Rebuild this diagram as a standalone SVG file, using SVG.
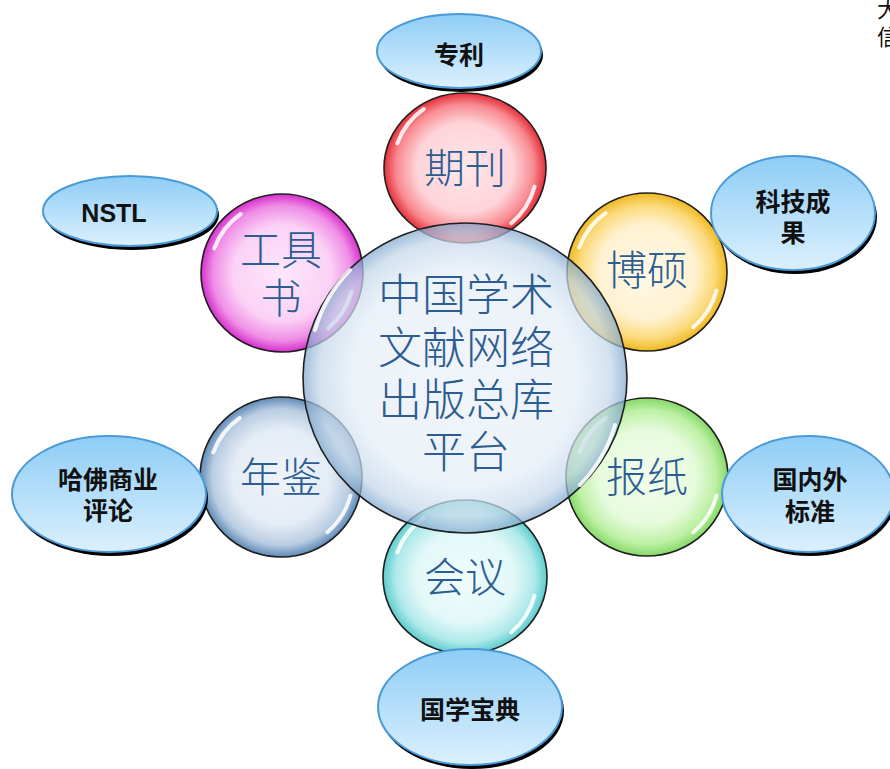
<svg xmlns="http://www.w3.org/2000/svg" xmlns:xlink="http://www.w3.org/1999/xlink" width="890" height="769" viewBox="0 0 890 769">
<style>
.bub{stroke:#1f1f1f;stroke-width:1.6}
.blab{font-family:"Noto Sans CJK SC","Noto Sans CJK JP",sans-serif;font-weight:300;font-size:41px;fill:#2c5d92;text-anchor:middle}
.clab{font-family:"Noto Sans CJK SC","Noto Sans CJK JP",sans-serif;font-weight:300;font-size:44px;fill:#2c5d92;text-anchor:middle}
.ell{fill:url(#ellG);stroke:#4a9ad8;stroke-width:2}
.shd{fill:#000}
.elab{font-family:"Noto Sans CJK SC","Noto Sans CJK JP",sans-serif;font-weight:bold;font-size:25px;fill:#111;text-anchor:middle}
.hl{fill:none;stroke:#fff;stroke-width:4;stroke-linecap:round;opacity:0.85}
</style>
<defs>
<linearGradient id="ellG" x1="0" y1="0" x2="0" y2="1">
<stop offset="0" stop-color="#8ecdf6"/>
<stop offset="1" stop-color="#dcf0fd"/>
</linearGradient>
<radialGradient id="gRed" cx="0.5" cy="0.5" r="0.5">
<stop offset="0" stop-color="#ffe6ea"/><stop offset="0.6" stop-color="#fdd4d9"/><stop offset="0.85" stop-color="#f88a90"/><stop offset="1" stop-color="#e52f3a"/>
</radialGradient>
<radialGradient id="gMag" cx="0.5" cy="0.5" r="0.5">
<stop offset="0" stop-color="#fde6fb"/><stop offset="0.6" stop-color="#fbd2f6"/><stop offset="0.85" stop-color="#f08ee6"/><stop offset="1" stop-color="#d530cc"/>
</radialGradient>
<radialGradient id="gYel" cx="0.5" cy="0.5" r="0.5">
<stop offset="0" stop-color="#fff9e8"/><stop offset="0.6" stop-color="#fff2d2"/><stop offset="0.85" stop-color="#fbd978"/><stop offset="1" stop-color="#f0b820"/>
</radialGradient>
<radialGradient id="gGrn" cx="0.5" cy="0.5" r="0.5">
<stop offset="0" stop-color="#f2fdec"/><stop offset="0.6" stop-color="#e6fbdc"/><stop offset="0.85" stop-color="#bdf0a4"/><stop offset="1" stop-color="#86d868"/>
</radialGradient>
<radialGradient id="gCyn" cx="0.5" cy="0.5" r="0.5">
<stop offset="0" stop-color="#f0fcfc"/><stop offset="0.6" stop-color="#e2f8f8"/><stop offset="0.85" stop-color="#aee9ea"/><stop offset="1" stop-color="#5ccccc"/>
</radialGradient>
<radialGradient id="gBlu" cx="0.5" cy="0.5" r="0.5">
<stop offset="0" stop-color="#eef3f9"/><stop offset="0.6" stop-color="#e4ecf5"/><stop offset="0.85" stop-color="#b9cde2"/><stop offset="1" stop-color="#5f8ab6"/>
</radialGradient>
<radialGradient id="gCen" cx="0.5" cy="0.5" r="0.5">
<stop offset="0" stop-color="#eaf1f8"/><stop offset="0.7" stop-color="#e4edf6"/><stop offset="0.9" stop-color="#c3d7ea"/><stop offset="1" stop-color="#7ea6cc"/>
</radialGradient>
<path id="hl" class="hl" d="M -67.7 -24.6 A 72 72 0 0 1 -41.3 -59 M 69.5 18.6 A 72 72 0 0 1 46.3 55.2"/>
</defs>

<g id="n-qikan">
<ellipse class="bub" cx="465" cy="168" rx="81" ry="75" fill="url(#gRed)"/>
<use xlink:href="#hl" transform="translate(465,168)"/>
<text class="blab" x="465" y="183">期刊</text>
</g>
<g id="n-gongjushu">
<ellipse class="bub" cx="282" cy="273" rx="81" ry="79" fill="url(#gMag)"/>
<use xlink:href="#hl" transform="translate(282,273)"/>
<text class="blab" x="281" y="265">工具</text>
<text class="blab" x="281" y="313">书</text>
</g>
<g id="n-boshuo">
<ellipse class="bub" cx="647" cy="272" rx="80" ry="79" fill="url(#gYel)"/>
<use xlink:href="#hl" transform="translate(647,272)"/>
<text class="blab" x="647" y="285">博硕</text>
</g>
<g id="n-nianjian">
<ellipse class="bub" cx="281" cy="477" rx="81" ry="80" fill="url(#gBlu)"/>
<use xlink:href="#hl" transform="translate(281,477)"/>
<text class="blab" x="281" y="492">年鉴</text>
</g>
<g id="n-baozhi">
<ellipse class="bub" cx="647" cy="477" rx="81" ry="79" fill="url(#gGrn)"/>
<use xlink:href="#hl" transform="translate(647,477)"/>
<text class="blab" x="647" y="492">报纸</text>
</g>
<g id="n-huiyi">
<ellipse class="bub" cx="465" cy="577" rx="82" ry="77" fill="url(#gCyn)"/>
<use xlink:href="#hl" transform="translate(465,577)"/>
<text class="blab" x="465" y="592">会议</text>
</g>

<g id="n-center">
<ellipse class="bub" cx="465" cy="378" rx="162" ry="155" fill="url(#gCen)" fill-opacity="0.72"/>
<path class="hl" d="M 315 330 A 150 145 0 0 1 350 270 M 615 425 A 150 145 0 0 1 580 485" opacity="0.7"/>
<text class="clab" x="466" y="311">中国学术</text>
<text class="clab" x="466" y="364">文献网络</text>
<text class="clab" x="466" y="416">出版总库</text>
<text class="clab" x="466" y="468">平台</text>
</g>

<g id="n-zhuanli">
<ellipse class="shd" cx="461" cy="55" rx="82" ry="37"/>
<ellipse class="ell" cx="459" cy="51" rx="82" ry="37"/>
<text class="elab" x="459" y="64">专利</text>
</g>
<g id="n-nstl">
<ellipse class="shd" cx="132" cy="215" rx="87" ry="35"/>
<ellipse class="ell" cx="130" cy="211" rx="87" ry="35"/>
<text x="114" y="222" font-family="Liberation Sans, Arial, sans-serif" font-weight="bold" font-size="25" fill="#111" text-anchor="middle">NSTL</text>
</g>
<g id="n-keji">
<ellipse class="shd" cx="795" cy="217" rx="82" ry="57"/>
<ellipse class="ell" cx="793" cy="213" rx="82" ry="57"/>
<text class="elab" x="793" y="211">科技成</text>
<text class="elab" x="793" y="242">果</text>
</g>
<g id="n-hafo">
<ellipse class="shd" cx="111" cy="498" rx="97" ry="58"/>
<ellipse class="ell" cx="109" cy="494" rx="97" ry="58"/>
<text class="elab" x="108" y="489">哈佛商业</text>
<text class="elab" x="108" y="520">评论</text>
</g>
<g id="n-biaozhun">
<ellipse class="shd" cx="810" cy="498" rx="86" ry="58"/>
<ellipse class="ell" cx="808" cy="494" rx="86" ry="58"/>
<text class="elab" x="810" y="489">国内外</text>
<text class="elab" x="810" y="521">标准</text>
</g>
<g id="n-guoxue">
<ellipse class="shd" cx="472" cy="711" rx="92" ry="58"/>
<ellipse class="ell" cx="470" cy="707" rx="92" ry="58"/>
<text class="elab" x="470" y="719">国学宝典</text>
</g>

<g id="corner-text">
<text x="877" y="17" font-family="Noto Sans CJK SC, sans-serif" font-size="22" fill="#111">大</text>
<text x="877" y="45" font-family="Noto Sans CJK SC, sans-serif" font-size="22" fill="#111">信</text>
</g>
</svg>
